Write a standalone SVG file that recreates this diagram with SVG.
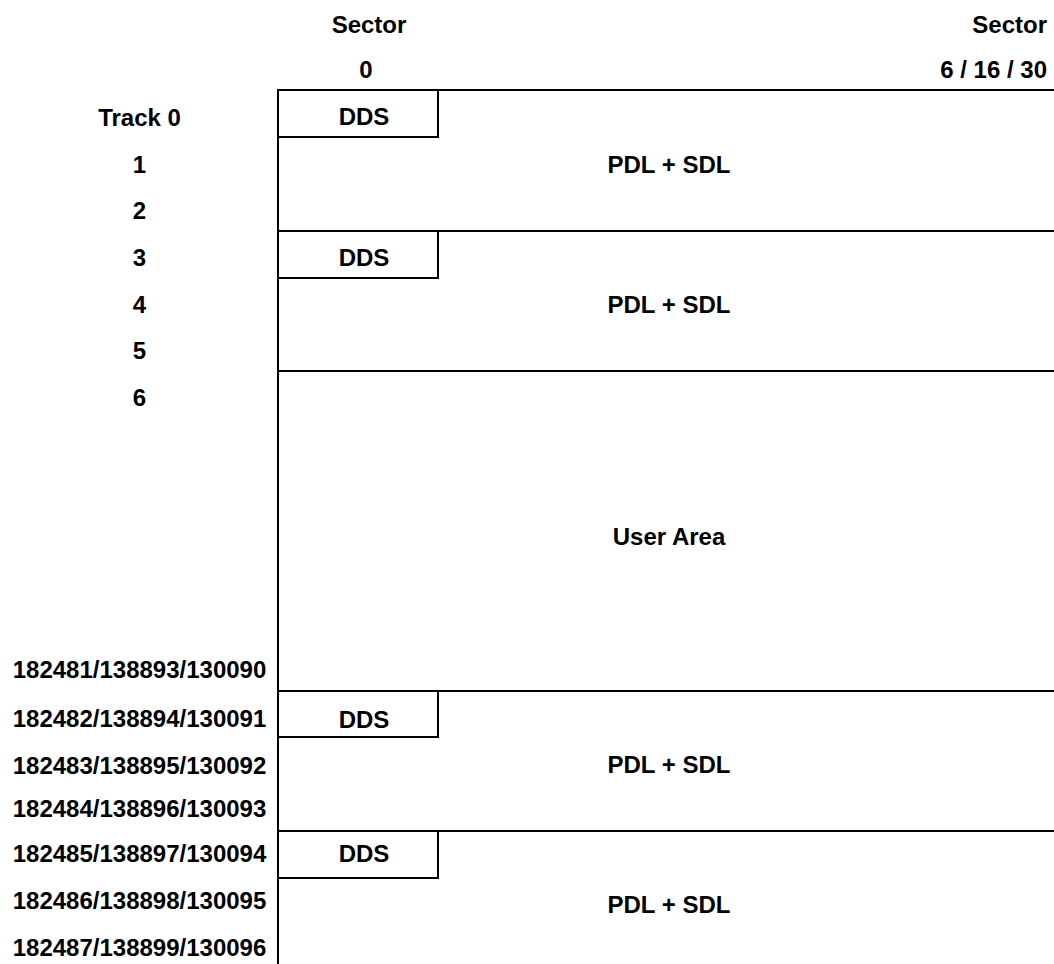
<svg xmlns="http://www.w3.org/2000/svg" width="1054" height="964" viewBox="0 0 1054 964">
<style>
text{font-family:"Liberation Sans",Arial,sans-serif;font-weight:bold;font-size:24px;fill:#000}
.c{text-anchor:middle}
.e{text-anchor:end}
.ln{stroke:#000;stroke-width:2;fill:none}
</style>
<rect width="1054" height="964" fill="#fff"/>
<g id="headers">
<text class="c" x="369" y="33">Sector</text>
<text class="c" x="366" y="78">0</text>
<text class="e" x="1047" y="33">Sector</text>
<text class="e" x="1047" y="78">6 / 16 / 30</text>
</g>
<g id="track-labels">
<text class="c" x="139.5" y="126">Track 0</text>
<text class="c" x="139.5" y="173">1</text>
<text class="c" x="139.5" y="219">2</text>
<text class="c" x="139.5" y="266">3</text>
<text class="c" x="139.5" y="313">4</text>
<text class="c" x="139.5" y="359">5</text>
<text class="c" x="139.5" y="406">6</text>
<text class="c" x="139.5" y="678">182481/138893/130090</text>
<text class="c" x="139.5" y="727">182482/138894/130091</text>
<text class="c" x="139.5" y="774">182483/138895/130092</text>
<text class="c" x="139.5" y="817">182484/138896/130093</text>
<text class="c" x="139.5" y="862">182485/138897/130094</text>
<text class="c" x="139.5" y="909">182486/138898/130095</text>
<text class="c" x="139.5" y="956">182487/138899/130096</text>
</g>
<g id="connectors">
<line class="ln" x1="278" y1="89" x2="278" y2="964"/>
<line class="ln" x1="277" y1="90" x2="1054" y2="90"/>
<line class="ln" x1="277" y1="231" x2="1054" y2="231"/>
<line class="ln" x1="277" y1="371" x2="1054" y2="371"/>
<line class="ln" x1="277" y1="691" x2="1054" y2="691"/>
<line class="ln" x1="277" y1="831" x2="1054" y2="831"/>
</g>
<g id="dds1"><path class="ln" d="M278 90H438V137H278"/><text class="c" x="364" y="125">DDS</text></g>
<g id="pdl1"><text class="c" x="669" y="173">PDL + SDL</text></g>
<g id="dds2"><path class="ln" d="M278 231H438V278H278"/><text class="c" x="364" y="266">DDS</text></g>
<g id="pdl2"><text class="c" x="669" y="313">PDL + SDL</text></g>
<g id="user"><text class="c" x="669" y="545">User Area</text></g>
<g id="dds3"><path class="ln" d="M278 691H438V737H278"/><text class="c" x="364" y="728">DDS</text></g>
<g id="pdl3"><text class="c" x="669" y="773">PDL + SDL</text></g>
<g id="dds4"><path class="ln" d="M278 831H438V878H278"/><text class="c" x="364" y="862">DDS</text></g>
<g id="pdl4"><text class="c" x="669" y="913">PDL + SDL</text></g>
</svg>
